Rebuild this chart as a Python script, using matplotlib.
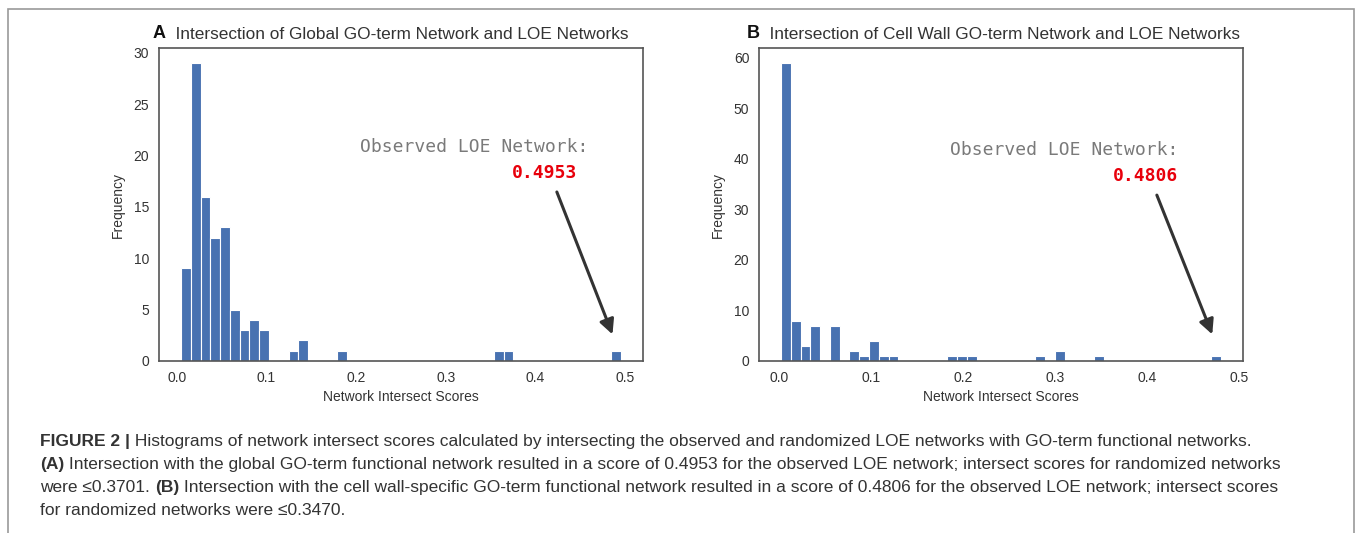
import numpy as np
import matplotlib
matplotlib.use("Agg")
import matplotlib.pyplot as plt
from matplotlib.patches import Rectangle

# ---- data (counts per bin, 45 equal bins between min and max score) ----
left_min, left_max = 0.0048, 0.4953
left_counts = [9, 29, 16, 12, 13, 5, 3, 4, 3, 0, 0, 1, 2, 0, 0, 0, 1,
               0, 0, 0, 0, 0, 0, 0, 0, 0, 0, 0, 0, 0, 0, 0,
               1, 1,
               0, 0, 0, 0, 0, 0, 0, 0, 0, 0,
               1]
right_min, right_max = 0.0020, 0.4806
right_counts = [59, 8, 3, 7, 0, 7, 0, 2, 1, 4, 1, 1,
                0, 0, 0, 0, 0,
                1, 1, 1,
                0, 0, 0, 0, 0, 0,
                1, 0, 2, 0, 0, 0, 1,
                0, 0, 0, 0, 0, 0, 0, 0, 0, 0, 0,
                1]
n_bins = 45
observed = [0.4953, 0.4806]
panel_letters = ["A", "B"]
titles = ["Intersection of Global GO-term Network and LOE Networks",
          "Intersection of Cell Wall GO-term Network and LOE Networks"]
left_yticks = [0, 5, 10, 15, 20, 25, 30]
right_yticks = [0, 10, 20, 30, 40, 50, 60]
xticks = [0.0, 0.1, 0.2, 0.3, 0.4, 0.5]

plt.rcParams['font.family'] = ['Liberation Sans', 'DejaVu Sans']

W, H = 1357, 533
fig = plt.figure(figsize=(W / 100, H / 100), dpi=100)

bar_col = "#4872b1"
spine_col = "#555555"
txt_col = "#333333"

axL = fig.add_axes([159 / W, 1 - 361 / H, 484 / W, 313 / H])
axR = fig.add_axes([759 / W, 1 - 361 / H, 484 / W, 313 / H])

panels = [(axL, left_min, left_max, left_counts, left_yticks),
          (axR, right_min, right_max, right_counts, right_yticks)]

for i, (ax, lo, hi, counts, yt) in enumerate(panels):
    edges = np.linspace(lo, hi, n_bins + 1)
    ax.hist(edges[:-1], bins=edges, weights=counts, color=bar_col,
            edgecolor="white", linewidth=0.8)
    ax.set_xticks(xticks)
    ax.set_yticks(yt)
    ax.tick_params(length=0, labelsize=10, labelcolor=txt_col, pad=7)
    for s in ax.spines.values():
        s.set_color(spine_col)
        s.set_linewidth(1.2)
    ax.set_xlabel("Network Intersect Scores", fontsize=10, color=txt_col, labelpad=4)
    ax.set_ylabel("Frequency", fontsize=10, color=txt_col, labelpad=6)

    # annotation text + arrow
    tx = [0.651, 0.631][i]
    ty = [0.685, 0.675][i]
    ax.text(tx, ty, "Observed LOE Network:", transform=ax.transAxes,
            family="DejaVu Sans Mono", fontsize=13, color="#7a7a7a",
            ha="center", va="center")
    vx = [0.864, 0.865][i]
    vy = [0.600, 0.591][i]
    ax.text(vx, vy, "%.4f" % observed[i], transform=ax.transAxes,
            family="DejaVu Sans Mono", fontsize=13, color="#e8000b",
            fontweight="bold", ha="right", va="center")
    ax.annotate("", xy=(observed[i] - 0.0095, 0.085),
                xycoords=("data", "axes fraction"),
                xytext=(0.822, [0.540, 0.530][i]), textcoords="axes fraction",
                arrowprops=dict(arrowstyle="-|>", color="#333333", lw=2.2,
                                mutation_scale=22, shrinkA=0, shrinkB=0))

    # panel title: bold letter then plain text
    lx = [153, 747][i]
    t = fig.text(lx / W, 1 - 42 / H, panel_letters[i], fontsize=13,
                 fontweight="bold", color="#111111", va="bottom")
    ax.annotate("  " + titles[i], xycoords=t, xy=(1, 0), va="bottom",
                fontsize=12.4, color=txt_col, annotation_clip=False)

# frame around the whole figure
fig.patches.append(Rectangle((8 / W, -0.1), (1354 - 8) / W, 1.1 - 9 / H,
                             transform=fig.transFigure, fill=False,
                             edgecolor="#9a9a9a", lw=1.2))

# caption, each line built from bold / plain pieces
cap_font = ['Liberation Sans', 'DejaVu Sans']
cap_size = 12.5
cap_lines = [
    [("FIGURE 2 |", True), (" Histograms of network intersect scores calculated by intersecting the observed and randomized LOE networks with GO-term functional networks.", False)],
    [("(A)", True), (" Intersection with the global GO-term functional network resulted in a score of 0.4953 for the observed LOE network; intersect scores for randomized networks", False)],
    [("were \u22640.3701. ", False), ("(B)", True), (" Intersection with the cell wall-specific GO-term functional network resulted in a score of 0.4806 for the observed LOE network; intersect scores", False)],
    [("for randomized networks were \u22640.3470.", False)],
]
cap_y = [449, 472, 495, 518]
for line, y in zip(cap_lines, cap_y):
    prev = None
    for txt, bold in line:
        w = "bold" if bold else "normal"
        if prev is None:
            prev = fig.text(40 / W, 1 - y / H, txt, family=cap_font,
                            fontsize=cap_size, fontweight=w, color=txt_col,
                            va="bottom")
        else:
            prev = axL.annotate(txt, xycoords=prev, xy=(1, 0), va="bottom",
                                family=cap_font, fontsize=cap_size,
                                fontweight=w, color=txt_col,
                                annotation_clip=False)

fig.savefig("out.png", dpi=100)
